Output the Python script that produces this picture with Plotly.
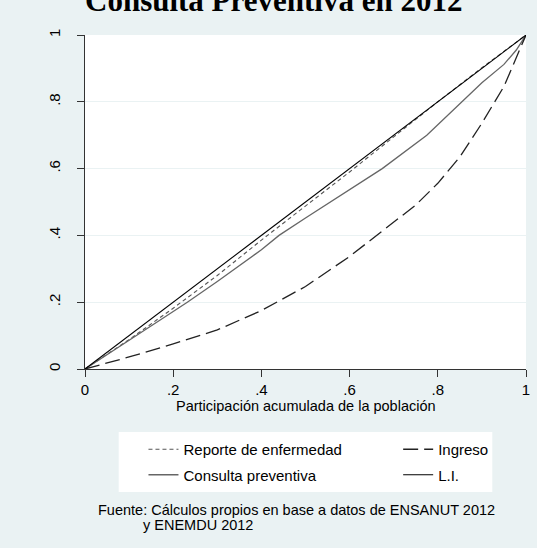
import plotly.graph_objects as go

# Concentration curves (cumulative share of population vs. cumulative share)
pob = [0, 0.1, 0.2, 0.3, 0.4, 0.5, 0.6, 0.7, 0.8, 0.9, 1.0]
reporte = [0, 0.088, 0.182, 0.28, 0.386, 0.488, 0.59, 0.695, 0.8, 0.902, 1.0]

pob_consulta = [0, 0.1, 0.2, 0.232, 0.3, 0.4, 0.44, 0.5, 0.6, 0.674, 0.775, 0.854, 0.9, 0.95, 0.978, 1.0]
consulta = [0, 0.085, 0.172, 0.2, 0.262, 0.357, 0.40, 0.452, 0.537, 0.6, 0.70, 0.80, 0.857, 0.912, 0.955, 1.0]

pob_ingreso = [0, 0.1, 0.2, 0.3, 0.4, 0.5, 0.6, 0.7, 0.75, 0.8, 0.85, 0.9, 0.95, 1.0]
ingreso = [0, 0.036, 0.075, 0.117, 0.175, 0.247, 0.337, 0.441, 0.491, 0.556, 0.635, 0.736, 0.846, 1.0]

igualdad_x = [0, 1]
igualdad_y = [0, 1]

tick_vals = [0, 0.2, 0.4, 0.6, 0.8, 1]
tick_text = ["0", ".2", ".4", ".6", ".8", "1"]

BG = "#EAF2F3"
FONT = "Liberation Sans, Arial, sans-serif"

fig = go.Figure()
fig.add_trace(go.Scatter(x=pob, y=reporte, mode="lines", name="Reporte de enfermedad",
                         line=dict(color="#555555", width=1.1, dash="4px,3px"),
                         legend="legend", legendgroup="a"))
fig.add_trace(go.Scatter(x=pob_consulta, y=consulta, mode="lines", name="Consulta preventiva",
                         line=dict(color="#666666", width=1.3),
                         legend="legend", legendgroup="b"))
fig.add_trace(go.Scatter(x=pob_ingreso, y=ingreso, mode="lines", name="Ingreso",
                         line=dict(color="#222222", width=1.3, dash="15px,6px"),
                         legend="legend2", legendgroup="c"))
fig.add_trace(go.Scatter(x=igualdad_x, y=igualdad_y, mode="lines", name="L.I.",
                         line=dict(color="#000000", width=1.1),
                         legend="legend2", legendgroup="d"))

W, H = 537, 548
L, R, T, B = 85, 7, 35, 179
pw, ph = W - L - R, H - T - B


def px_x(p):
    return (p - L) / pw


def px_y(p):
    return (H - B - p) / ph


legend_font = dict(family=FONT, size=15, color="#000000")

fig.update_layout(
    width=W, height=H,
    margin=dict(l=L, r=R, t=T, b=B),
    paper_bgcolor=BG,
    plot_bgcolor="#FFFFFF",
    font=dict(family=FONT, size=15, color="#000000"),
    showlegend=True,
    legend=dict(x=px_x(144), y=px_y(433), xanchor="left", yanchor="top",
                bgcolor="rgba(0,0,0,0)", font=legend_font,
                traceorder="grouped", tracegroupgap=3),
    legend2=dict(x=px_x(401), y=px_y(433), xanchor="left", yanchor="top",
                 bgcolor="rgba(0,0,0,0)", font=legend_font,
                 traceorder="grouped", tracegroupgap=3),
    xaxis=dict(
        range=[0, 1], tickvals=tick_vals, ticktext=tick_text,
        showgrid=False, zeroline=False,
        showline=True, linecolor="#333333", linewidth=1,
        ticks="outside", ticklen=7, tickcolor="#333333", tickwidth=1,
        tickfont=dict(family=FONT, size=15),
        ticklabelstandoff=0,
    ),
    yaxis=dict(
        range=[0, 1], tickvals=tick_vals, ticktext=tick_text,
        showgrid=True, gridcolor=BG, gridwidth=1, zeroline=False,
        showline=True, linecolor="#333333", linewidth=1,
        ticks="outside", ticklen=7, tickcolor="#333333", tickwidth=1,
        tickangle=-90, tickfont=dict(family=FONT, size=15),
        ticklabelstandoff=11,
    ),
    shapes=[
        dict(type="rect", xref="paper", yref="paper",
             x0=px_x(119), x1=px_x(496), y0=px_y(492), y1=px_y(432),
             fillcolor="#FFFFFF", line=dict(width=0), layer="below"),
    ],
    annotations=[
        dict(text="<b>Consulta Preventiva en 2012</b>", xref="paper", yref="paper",
             x=px_x(275), y=px_y(1), xanchor="center", yanchor="middle", showarrow=False,
             font=dict(family="Liberation Serif, Times New Roman, serif", size=31, color="#000000")),
        dict(text="Participación acumulada de la población", xref="paper", yref="paper",
             x=0.5, y=px_y(406), xanchor="center", yanchor="middle", showarrow=False,
             font=dict(family=FONT, size=14.5, color="#000000")),
        dict(text="Fuente: Cálculos propios en base a datos de ENSANUT 2012", xref="paper", yref="paper",
             x=px_x(96), y=px_y(510), xanchor="left", yanchor="middle", showarrow=False,
             font=dict(family=FONT, size=14.5, color="#000000")),
        dict(text="y ENEMDU 2012", xref="paper", yref="paper",
             x=px_x(142), y=px_y(525), xanchor="left", yanchor="middle", showarrow=False,
             font=dict(family=FONT, size=14.5, color="#000000")),
    ],
)

fig.write_html("out.html")
